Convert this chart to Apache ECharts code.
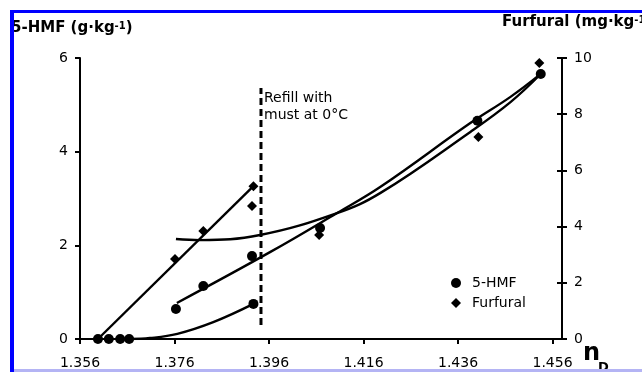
<!DOCTYPE html>
<html>
<head>
<meta charset="utf-8">
<script src="https://cdn.jsdelivr.net/npm/echarts@6/dist/echarts.min.js"></script>
<style>
  html, body { margin: 0; padding: 0; background: #fff; }
  #chart { width: 642px; height: 372px; }
</style>
</head>
<body>
<div id="chart"></div>
<script>
const FONT = 'DejaVu Sans';

// Refractive index (n_D) tick positions
const xTicks = [1.356, 1.376, 1.396, 1.416, 1.436, 1.456];

// Measured 5-HMF (g·kg-1) against refractive index
const hmfPoints = [
  [1.3598, 0], [1.3621, 0], [1.3645, 0], [1.3664, 0],
  [1.3763, 0.64], [1.3821, 1.13], [1.3924, 1.77], [1.3927, 0.75],
  [1.4068, 2.37], [1.4401, 4.66], [1.4535, 5.66]
];

// Measured furfural (mg·kg-1) against refractive index
const furfuralPoints = [
  [1.3761, 2.85], [1.3821, 3.84], [1.3924, 4.73], [1.3927, 5.44],
  [1.4066, 3.70], [1.4403, 7.19], [1.4532, 9.82]
];

// Trend lines
const furfuralTrendBefore = [[1.3598, 0], [1.3927, 5.44]];
const hmfTrendLow = [
  [1.3666, 0], [1.3708, 0.02], [1.3766, 0.11], [1.3842, 0.36], [1.3927, 0.75]
];
const hmfTrendHigh = [
  [1.3765, 0.77], [1.3963, 1.86], [1.4104, 2.69], [1.4196, 3.25],
  [1.4386, 4.61], [1.4471, 5.17], [1.4535, 5.66]
];
const furfuralTrendAfter = [
  [1.3763, 3.56], [1.3814, 3.52], [1.3941, 3.70], [1.4104, 4.48],
  [1.4196, 5.20], [1.4386, 7.37], [1.4471, 8.43], [1.4535, 9.43]
];

// Refill marker (drawn on the 5-HMF scale)
const refillLine = [[1.3943, 0.30], [1.3943, 5.36]];

const chart = echarts.init(document.getElementById('chart'), null, { renderer: 'canvas' });

const axisText = { color: '#000', fontFamily: FONT, fontSize: 14 };
const blackLine = { color: '#000', width: 2 };

function trend(data, yAxisIndex) {
  return {
    type: 'line', data, yAxisIndex, xAxisIndex: 0,
    smooth: 0.4, symbol: 'none', silent: true,
    lineStyle: { color: '#000', width: 2.4 }, z: 3
  };
}

chart.setOption({
  animation: false,
  backgroundColor: '#fff',
  grid: { left: 80, right: 80, top: 58, bottom: 33, containLabel: false },
  legend: {
    orient: 'vertical', left: 446, top: 271,
    itemWidth: 10, itemHeight: 10, itemGap: 6,
    data: [{ name: '5-HMF', icon: 'circle' }, { name: 'Furfural', icon: 'diamond' }],
    itemStyle: { opacity: 1 },
    textStyle: { color: '#000', fontFamily: FONT, fontSize: 14, padding: [0, 0, 0, 6] }
  },
  xAxis: {
    type: 'value', min: 1.356, max: 1.458,
    axisLine: { lineStyle: blackLine },
    axisTick: { length: 5, lineStyle: blackLine, customValues: xTicks },
    axisLabel: { ...axisText, margin: 17, customValues: xTicks,
      formatter: v => v.toFixed(3) },
    splitLine: { show: false }
  },
  yAxis: [
    {
      type: 'value', position: 'left', min: 0, max: 6, interval: 2,
      axisLine: { show: true, lineStyle: blackLine },
      axisTick: { show: true, length: 5, lineStyle: blackLine },
      axisLabel: { ...axisText, margin: 12 },
      splitLine: { show: false }
    },
    {
      type: 'value', position: 'right', min: 0, max: 10, interval: 2,
      axisLine: { show: true, lineStyle: blackLine },
      axisTick: { show: true, length: 5, lineStyle: blackLine },
      axisLabel: { ...axisText, margin: 12 },
      splitLine: { show: false }
    },
    {
      // inner half of the crossing ticks on the furfural axis
      type: 'value', position: 'right', min: 0, max: 10, interval: 2,
      axisLine: { show: false },
      axisTick: { show: true, inside: true, length: 5, lineStyle: blackLine },
      axisLabel: { show: false },
      splitLine: { show: false }
    }
  ],
  series: [
    trend(furfuralTrendBefore, 1),
    trend(hmfTrendLow, 0),
    trend(hmfTrendHigh, 0),
    trend(furfuralTrendAfter, 1),
    {
      type: 'line', data: refillLine, yAxisIndex: 0, symbol: 'none', silent: true,
      lineStyle: { color: '#000', width: 3, type: [7, 4] }, z: 2
    },
    {
      name: '5-HMF', type: 'scatter', data: hmfPoints, yAxisIndex: 0,
      symbol: 'circle', symbolSize: 10, itemStyle: { color: '#000', opacity: 1 }, z: 4
    },
    {
      name: 'Furfural', type: 'scatter', data: furfuralPoints, yAxisIndex: 1,
      symbol: 'diamond', symbolSize: 10, itemStyle: { color: '#000', opacity: 1 }, z: 4
    }
  ],
  graphic: [
    {
      type: 'text', left: 11, top: 21, z: 5,
      style: {
        text: '{a|5-HMF (g·kg}{s|-1}{a|)}',
        rich: {
          a: { fontFamily: FONT, fontWeight: 'bold', fontSize: 15, fill: '#000' },
          s: { fontFamily: FONT, fontWeight: 'bold', fontSize: 10, fill: '#000', verticalAlign: 'top' }
        }
      }
    },
    {
      type: 'text', left: 502, top: 15, z: 5,
      style: {
        text: '{a|Furfural (mg·kg}{s|-1}{a|)}',
        rich: {
          a: { fontFamily: FONT, fontWeight: 'bold', fontSize: 15, fill: '#000' },
          s: { fontFamily: FONT, fontWeight: 'bold', fontSize: 10, fill: '#000', verticalAlign: 'top' }
        }
      }
    },
    {
      type: 'text', left: 264, top: 90, z: 5,
      style: {
        text: 'Refill with\nmust at 0°C',
        fontFamily: FONT, fontSize: 14, lineHeight: 17, fill: '#000'
      }
    },
    {
      type: 'text', left: 583, top: 342, z: 5,
      style: { text: 'n', fontFamily: FONT, fontWeight: 'bold', fontSize: 24, fill: '#000' }
    },
    {
      type: 'text', left: 598, top: 361, z: 5,
      style: { text: 'D', fontFamily: FONT, fontWeight: 'bold', fontSize: 13, fill: '#000' }
    },
    // frame strips
    { type: 'rect', z: 10, shape: { x: 10, y: 10, width: 632, height: 3 }, style: { fill: '#0000ff' } },
    { type: 'rect', z: 10, shape: { x: 10, y: 10, width: 4, height: 362 }, style: { fill: '#0000ff' } },
    { type: 'rect', z: 10, shape: { x: 14, y: 369, width: 628, height: 3 }, style: { fill: '#b4b4f4' } }
  ]
});
</script>
</body>
</html>
